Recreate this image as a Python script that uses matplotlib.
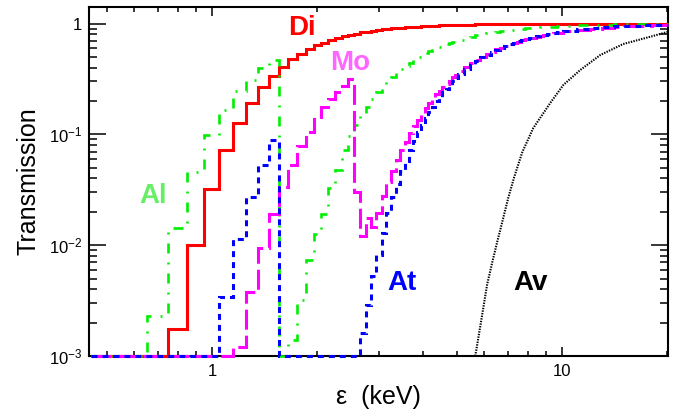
import numpy as np
import matplotlib
matplotlib.use("Agg")
import matplotlib.pyplot as plt
from matplotlib.ticker import NullFormatter, LogLocator, FixedLocator

plt.rcParams['font.family'] = ['Liberation Sans', 'DejaVu Sans']
plt.rcParams['mathtext.fontset'] = 'custom'
plt.rcParams['mathtext.rm'] = 'Liberation Sans'
plt.rcParams['mathtext.it'] = 'Liberation Sans:italic'
plt.rcParams['lines.scale_dashes'] = False

# bin edges (keV): 0.1 keV up to 5.05, 0.2 keV up to 10.05, 1 keV up to 20.05
edges = np.concatenate([np.arange(0.45, 5.0, 0.1), np.arange(5.05, 10.0, 0.2),
                        np.arange(10.05, 20.1, 1.0)])

# transmission per bin (0 = below the 1e-3 floor)
di = [0, 0, 0, 0.00174, 0.0100, 0.0319, 0.0721, 0.127, 0.193, 0.265,
      0.338, 0.408, 0.475, 0.535, 0.587, 0.634, 0.674, 0.710, 0.741, 0.768,
      0.792, 0.812, 0.831, 0.847, 0.861, 0.874, 0.885, 0.895, 0.904, 0.911,
      0.918, 0.925, 0.931, 0.936, 0.940, 0.945, 0.948, 0.952, 0.955, 0.958,
      0.961, 0.963, 0.966, 0.967, 0.969, 0.971,
      0.974, 0.976, 0.979, 0.981, 0.983, 0.984, 0.986, 0.987, 0.988, 0.989,
      0.990, 0.991, 0.992, 0.992, 0.993, 0.993, 0.994, 0.994, 0.995, 0.995,
      0.995, 0.996, 0.996, 0.996, 0.996,
      0.997, 0.998, 0.998, 0.999, 0.999, 0.999, 0.999, 0.999, 0.999, 1.0]

al = [0, 0, 0.00229, 0.0142, 0.0454, 0.0986, 0.166, 0.248, 0.310, 0.394,
      0.469, 0, 0.0014, 0.0032, 0.0073, 0.0125, 0.019, 0.033, 0.048, 0.073,
      0.096, 0.122, 0.149, 0.178, 0.208, 0.239, 0.270, 0.300, 0.330, 0.360,
      0.389, 0.417, 0.444, 0.470, 0.495, 0.517, 0.540, 0.562, 0.582, 0.601,
      0.619, 0.637, 0.653, 0.669, 0.683, 0.697,
      0.717, 0.741, 0.762, 0.781, 0.798, 0.814, 0.828, 0.840, 0.852, 0.862,
      0.872, 0.881, 0.888, 0.896, 0.902, 0.908, 0.914, 0.919, 0.923, 0.928,
      0.932, 0.936, 0.939, 0.942, 0.945,
      0.953, 0.963, 0.970, 0.976, 0.980, 0.983, 0.986, 0.988, 0.990, 0.991]

mo = [0, 0, 0, 0, 0, 0, 0, 0.0012, 0.0038, 0.0094,
      0.019, 0.0337, 0.0528, 0.0784, 0.106, 0.139, 0.175, 0.210, 0.242, 0.272,
      0.318, 0.030, 0.0121, 0.0175, 0.0147, 0.0197, 0.028, 0.037, 0.047, 0.059,
      0.072, 0.086, 0.102, 0.118, 0.135, 0.153, 0.172, 0.190, 0.210, 0.229,
      0.248, 0.268, 0.287, 0.306, 0.326, 0.344,
      0.371, 0.407, 0.441, 0.472, 0.503, 0.532, 0.558, 0.583, 0.607, 0.629,
      0.649, 0.668, 0.686, 0.703, 0.719, 0.733, 0.747, 0.760, 0.772, 0.783,
      0.794, 0.803, 0.813, 0.821, 0.829,
      0.851, 0.880, 0.901, 0.918, 0.931, 0.941, 0.950, 0.956, 0.962, 0.967]

at = [0, 0, 0, 0, 0, 0, 0.0034, 0.0113, 0.0273, 0.0528,
      0.0887, 0, 0, 0, 0, 0, 0, 0, 0, 0,
      0, 0, 0.0016, 0.0029, 0.0053, 0.0082, 0.0128, 0.0195, 0.027, 0.036,
      0.047, 0.058, 0.072, 0.088, 0.105, 0.122, 0.140, 0.159, 0.178, 0.198,
      0.218, 0.239, 0.259, 0.280, 0.300, 0.320,
      0.350, 0.389, 0.425, 0.460, 0.494, 0.525, 0.554, 0.582, 0.607, 0.631,
      0.653, 0.674, 0.693, 0.711, 0.727, 0.743, 0.757, 0.770, 0.783, 0.795,
      0.806, 0.816, 0.825, 0.834, 0.842,
      0.864, 0.892, 0.913, 0.929, 0.941, 0.951, 0.958, 0.965, 0.970, 0.974]

# Av: fine-binned curve, read as points
av_e = [5.65, 5.69, 5.88, 6.11, 6.32, 6.53, 6.75, 7.02, 7.30, 7.70, 8.28,
        9.26, 10.09, 11.27, 12.87, 14.96, 17.88, 20.05]
av_t = [0.0010, 0.00113, 0.0021, 0.0044, 0.0070, 0.0107, 0.0162, 0.0266, 0.041,
        0.069, 0.114, 0.192, 0.279, 0.38, 0.52, 0.653, 0.76, 0.84]

FLOOR = 1e-3

fig = plt.figure(figsize=(6.81, 4.11), dpi=100)
ax = fig.add_axes([0.1307, 0.1338, 0.8503, 0.8492])
ax.set_xscale('log')
ax.set_yscale('log')

styles = [
    (di, '#ff0000', 2.2, 'solid'),
    (al, '#00ee00', 1.9, (0, (7.2, 6.5, 1.4, 6.5))),
    (mo, '#ff00ff', 2.2, (0, (14.4, 4.3))),
    (at, '#0000ff', 2.2, (0, (4.3, 3.6))),
]
for vals, col, lw, ls in styles:
    v = np.clip(np.array(vals, dtype=float), FLOOR, None)
    ax.stairs(v, edges, baseline=None, color=col, lw=lw, linestyle=ls,
              clip_on=False, zorder=3)

ax.plot(av_e, av_t, color='black', lw=1.5, linestyle=(0, (1.0, 0.9)),
        clip_on=False, zorder=3)

ax.set_xlim(0.445, 20.1)
ax.set_ylim(FLOOR, 1.41)

# labels on the curves (pixel positions in the 681x411 figure)
for txt, px, py, col in [("Di", 302, 28, '#ff0000'), ("Mo", 350, 63, '#ff66ff'),
                         ("Al", 153, 196, '#66ee66'), ("At", 402, 283, '#0000ff'),
                         ("Av", 530, 283, 'black')]:
    fig.text(px / 681, 1 - py / 411, txt, fontsize=20, fontweight='bold',
             ha='center', va='center', color=col)

ax.set_ylabel("Transmission", fontsize=18, labelpad=6)
ax.set_xlabel("ε  (keV)", fontsize=18, labelpad=4)

ax.xaxis.set_major_locator(FixedLocator([1, 10]))
ax.set_xticklabels(['1', '10'])
ax.xaxis.set_minor_locator(LogLocator(base=10, subs=np.arange(2, 10) * 1.0))
ax.xaxis.set_minor_formatter(NullFormatter())
ax.yaxis.set_major_locator(FixedLocator([1e-3, 1e-2, 1e-1, 1]))
ax.set_yticklabels(['$10^{-3}$', '$10^{-2}$', '$10^{-1}$', '1'])
ax.yaxis.set_minor_locator(LogLocator(base=10, subs=np.arange(2, 10) * 1.0))
ax.yaxis.set_minor_formatter(NullFormatter())

ax.tick_params(which='both', direction='in', top=True, right=True, width=1.1,
               labelsize=12)
ax.tick_params(axis='x', which='major', length=6.5, pad=6)
ax.tick_params(axis='x', which='minor', length=3.6)
ax.tick_params(axis='y', which='major', length=12.2, pad=5)
ax.tick_params(axis='y', which='minor', length=5.8)
for s in ax.spines.values():
    s.set_linewidth(1.5)

fig.savefig("out.png", dpi=100)
